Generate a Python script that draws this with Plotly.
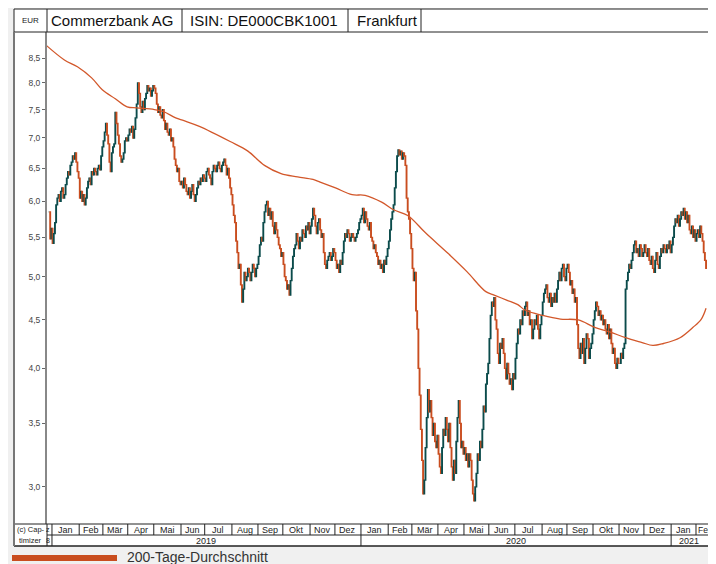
import numpy as np
import pandas as pd
import plotly.graph_objects as go

# daily closing prices in EUR, estimated from the chart (one line per month)
close_2018 = [5.85, 5.48, 5.62]
close_2019 = [
    5.42, 5.55, 5.70, 5.95, 6.05, 6.10, 6.00, 6.15, 6.20, 6.05, 6.10, 6.25, 6.35, 6.45, 6.40, 6.55, 6.60, 6.70, 6.65, 6.75, 6.60, 6.45, 6.35,
    6.05, 6.15, 6.00, 6.10, 5.95, 6.05, 6.20, 6.30, 6.35, 6.25, 6.45, 6.40, 6.50, 6.45, 6.40, 6.50, 6.55, 6.48, 6.70, 6.85,
    6.95, 7.10, 7.25, 7.05, 6.90, 6.60, 6.45, 6.75, 6.85, 6.90, 7.45, 7.25, 7.05, 6.90, 6.70, 6.60, 6.65, 6.75, 6.95, 7.00, 6.95,
    7.05, 7.15, 7.10, 7.20, 7.00, 7.15, 7.35, 7.60, 8.00, 7.80, 7.55, 7.45, 7.65, 7.50, 7.70, 7.80, 7.95, 7.85, 7.90, 7.75, 7.85, 7.95,
    7.90, 7.80, 7.60, 7.45, 7.55, 7.40, 7.35, 7.50, 7.30, 7.15, 7.25, 7.10, 7.05, 7.15, 6.95, 7.00, 6.85, 6.65, 6.55, 6.45, 6.50, 6.30, 6.25,
    6.30, 6.20, 6.35, 6.25, 6.15, 6.10, 6.20, 6.05, 6.15, 6.25, 6.10, 6.00, 6.10, 6.20, 6.30, 6.25, 6.35, 6.30, 6.40, 6.35,
    6.30, 6.45, 6.50, 6.40, 6.35, 6.25, 6.45, 6.55, 6.50, 6.45, 6.55, 6.60, 6.50, 6.45, 6.55, 6.60, 6.65, 6.55, 6.40, 6.50, 6.35, 6.20, 6.10,
    5.95, 5.80, 5.70, 5.45, 5.30, 5.10, 5.15, 4.90, 4.70, 4.85, 5.05, 4.95, 5.00, 5.10, 5.05, 4.95, 5.05, 5.15, 5.10, 5.00, 5.10, 5.15,
    5.25, 5.40, 5.50, 5.45, 5.70, 5.85, 5.95, 6.00, 5.80, 5.90, 5.75, 5.85, 5.65, 5.55, 5.70, 5.60, 5.50, 5.40, 5.35, 5.25, 5.30,
    5.15, 5.00, 4.95, 4.85, 4.90, 4.78, 4.95, 5.10, 5.25, 5.35, 5.40, 5.55, 5.45, 5.35, 5.50, 5.45, 5.60, 5.55, 5.50, 5.65, 5.60, 5.70, 5.55,
    5.65, 5.75, 5.90, 5.80, 5.65, 5.55, 5.70, 5.75, 5.60, 5.50, 5.55, 5.30, 5.15, 5.10, 5.20, 5.25, 5.30, 5.20, 5.25, 5.35, 5.30,
    5.20, 5.10, 5.15, 5.05, 5.20, 5.15, 5.30, 5.45, 5.55, 5.50, 5.60, 5.55, 5.45, 5.50, 5.55, 5.50, 5.45, 5.50, 5.55, 5.60, 5.70, 5.75,
]
close_2020 = [
    5.80, 5.90, 5.70, 5.85, 5.75, 5.65, 5.60, 5.70, 5.50, 5.45, 5.35, 5.40, 5.30, 5.25, 5.15, 5.20, 5.10, 5.15, 5.05, 5.20, 5.15, 5.25, 5.35,
    5.45, 5.60, 5.75, 5.85, 5.95, 6.20, 6.45, 6.70, 6.80, 6.72, 6.78, 6.65, 6.75, 6.70, 6.55, 6.05, 5.85, 5.75, 5.55, 5.35,
    5.10, 4.95, 5.05, 4.60, 4.40, 4.00, 3.75, 3.45, 3.20, 2.95, 3.05, 3.30, 3.55, 3.80, 3.60, 3.70, 3.55, 3.40, 3.50, 3.35, 3.30, 3.40,
    3.25, 3.15, 3.10, 3.30, 3.45, 3.40, 3.55, 3.45, 3.35, 3.50, 3.30, 3.15, 3.05, 3.20, 3.10, 3.35, 3.55, 3.70, 3.50, 3.30, 3.35, 3.25,
    3.30, 3.20, 3.25, 3.15, 3.25, 3.20, 3.05, 2.95, 2.90, 3.00, 3.10, 3.25, 3.20, 3.35, 3.30, 3.45, 3.65, 3.60, 3.85, 3.95, 4.05,
    4.30, 4.55, 4.70, 4.65, 4.75, 4.50, 4.40, 4.15, 4.05, 4.25, 4.20, 4.30, 4.15, 4.00, 3.90, 4.05, 3.95, 3.85, 3.90, 3.80, 3.95, 3.90,
    4.10, 4.25, 4.40, 4.35, 4.50, 4.45, 4.60, 4.55, 4.65, 4.70, 4.55, 4.60, 4.45, 4.50, 4.30, 4.40, 4.50, 4.45, 4.55, 4.40, 4.30, 4.45, 4.55,
    4.70, 4.80, 4.85, 4.90, 4.75, 4.70, 4.80, 4.65, 4.75, 4.70, 4.80, 4.70, 4.85, 4.95, 5.05, 4.95, 5.10, 5.15, 5.00, 4.95, 5.10,
    5.15, 5.05, 4.90, 4.95, 4.80, 4.85, 4.70, 4.75, 4.45, 4.20, 4.10, 4.25, 4.15, 4.30, 4.05, 4.20, 4.35, 4.30, 4.10, 4.20, 4.25, 4.35,
    4.50, 4.60, 4.70, 4.65, 4.55, 4.60, 4.50, 4.55, 4.45, 4.50, 4.40, 4.35, 4.45, 4.30, 4.40, 4.25, 4.15, 4.20, 4.05, 4.00, 4.10, 4.05,
    4.05, 4.15, 4.10, 4.20, 4.25, 4.85, 4.95, 5.05, 5.15, 5.10, 5.20, 5.30, 5.40, 5.45, 5.30, 5.35, 5.25, 5.40, 5.35, 5.25, 5.30,
    5.40, 5.30, 5.25, 5.35, 5.20, 5.15, 5.25, 5.10, 5.05, 5.20, 5.30, 5.15, 5.10, 5.25, 5.35, 5.30, 5.40, 5.35, 5.30, 5.40, 5.35, 5.45, 5.30,
]
close_2021 = [
    5.40, 5.50, 5.65, 5.75, 5.70, 5.80, 5.65, 5.75, 5.85, 5.80, 5.90, 5.75, 5.85, 5.70, 5.80, 5.60, 5.55, 5.65, 5.50, 5.60, 5.45,
    5.55, 5.60, 5.50, 5.65, 5.55, 5.45, 5.30, 5.20, 5.10,
]

# 200-day moving average
ma_dates = [
    "2018-12-24", "2019-01-15", "2019-01-30", "2019-02-15", "2019-02-28", "2019-03-15",
    "2019-03-29", "2019-04-10", "2019-05-01", "2019-05-13", "2019-05-27", "2019-06-05",
    "2019-06-24", "2019-07-30", "2019-08-20", "2019-09-09", "2019-09-27", "2019-10-17",
    "2019-11-05", "2019-11-13", "2019-12-02", "2019-12-20", "2020-01-06", "2020-01-24",
    "2020-02-07", "2020-02-25", "2020-03-17", "2020-04-13", "2020-05-05", "2020-05-27",
    "2020-06-05", "2020-06-22", "2020-07-03", "2020-07-13", "2020-08-03", "2020-08-24",
    "2020-09-14", "2020-10-02", "2020-10-21", "2020-11-09", "2020-11-27", "2020-12-10",
    "2020-12-23", "2021-01-12", "2021-01-27", "2021-02-05", "2021-02-11",
]
ma_values = [
    8.78, 8.46, 8.32, 8.10, 7.87, 7.70,
    7.55, 7.53, 7.50, 7.46, 7.35, 7.30,
    7.20, 6.94, 6.78, 6.55, 6.42, 6.37,
    6.33, 6.29, 6.20, 6.10, 6.09, 5.99,
    5.88, 5.80, 5.56, 5.29, 5.06, 4.82,
    4.78, 4.72, 4.67, 4.61, 4.55, 4.51,
    4.50, 4.42, 4.37, 4.31, 4.26, 4.23,
    4.25, 4.31, 4.42, 4.51, 4.63,
]

month_names = ["Jan", "Feb", "Mär", "Apr", "Mai", "Jun", "Jul", "Aug", "Sep", "Okt", "Nov", "Dez"]
y_ticks = [3.0, 3.5, 4.0, 4.5, 5.0, 5.5, 6.0, 6.5, 7.0, 7.5, 8.0, 8.5]

UP = "#0b4b4b"
DOWN = "#c94d1f"
MA = "#d2572a"
FONT = "Liberation Sans, Arial, sans-serif"

# the page puts the figure 8px in from the top-left corner of the window, so the
# figure is sized to end exactly at the window edge; positions are window pixels
OFF = 8
W, H = 716 - OFF, 564 - OFF
L, T = 47 - OFF, 32 - OFF
B, R = H - (524 - OFF), 0
PW, PH = 669, 492


def px(x):
    return (x - 47) / PW


def py(y):
    return (524 - y) / PH


close = close_2018 + close_2019 + close_2020 + close_2021
dates = pd.bdate_range("2018-12-27", periods=len(close))
all_days = pd.bdate_range("2018-12-17", "2021-03-31")
pos = pd.Series(np.arange(len(all_days)), index=all_days)
xi = pos[dates].values
opn = [close[0]] + close[:-1]
high = np.maximum(opn, close)
low = np.minimum(opn, close)

XL, XR = 6.3, 571.4

fig = go.Figure()
fig.add_trace(go.Candlestick(
    x=xi, open=opn, high=high, low=low, close=close,
    increasing=dict(line=dict(color=UP, width=1.3), fillcolor=UP),
    decreasing=dict(line=dict(color=DOWN, width=1.3), fillcolor=DOWN),
    whiskerwidth=0, showlegend=False, hoverinfo="skip",
))
fig.add_trace(go.Scatter(
    x=pos[pd.to_datetime(ma_dates)].values, y=ma_values, mode="lines",
    line=dict(color=MA, width=1.3, shape="spline"), showlegend=False, hoverinfo="skip",
))

shapes = []
annotations = []
# white frame areas: header, y-axis column, date table
for x0, y0, x1, y1 in [(14, 9, 716, 32), (14, 32, 47, 546), (47, 524, 716, 546)]:
    shapes.append(dict(type="rect", xref="paper", yref="paper", x0=px(x0), x1=px(x1),
                       y0=py(y0), y1=py(y1), fillcolor="white", line=dict(width=0), layer="below"))


def hline(y, x0, x1, color="#222", w=1):
    shapes.append(dict(type="line", xref="paper", yref="paper", x0=px(x0), x1=px(x1),
                       y0=py(y), y1=py(y), line=dict(color=color, width=w)))


def vline(x, y0, y1, color="#222", w=1):
    shapes.append(dict(type="line", xref="paper", yref="paper", x0=px(x), x1=px(x),
                       y0=py(y0), y1=py(y1), line=dict(color=color, width=w)))


def label(x, y, text, font, xref="paper", xanchor="center", xshift=0):
    annotations.append(dict(x=x, y=y, xref=xref, yref="paper", text=text, showarrow=False,
                            xanchor=xanchor, yanchor="middle", xshift=xshift, font=font))


hline(9, 14, 716)
hline(32, 14, 716)
hline(524, 14, 716)
hline(535, 47, 716)
hline(546, 14, 716, w=1.5)
vline(14, 9, 32)
vline(14, 32, 546, color="#777", w=2)
for xs in [47, 182, 348, 421]:
    vline(xs, 9, 32)
vline(47, 524, 546)

# month / year table below the plot
months = pd.date_range("2019-01-01", "2021-02-01", freq="MS")
bounds = [pos[all_days[all_days >= m][0]] - 0.5 for m in months]
y_mid_m = py(529.5)
y_mid_y = py(540.5)
tfont = dict(size=9, color="#222", family=FONT)
for i, m in enumerate(months):
    b = bounds[i]
    shapes.append(dict(type="line", xref="x", yref="paper", x0=b, x1=b, y0=py(524), y1=py(535),
                       line=dict(color="#222", width=1)))
    if i + 1 < len(bounds):
        label((b + bounds[i + 1]) / 2, y_mid_m, month_names[m.month - 1], tfont, xref="x")
    else:
        # last month runs past the window edge
        label(b, y_mid_m, month_names[m.month - 1], dict(tfont, size=8.5), xref="x",
              xanchor="left", xshift=0.5)
year_idx = [i for i, m in enumerate(months) if m.month == 1]
for k, i in enumerate(year_idx):
    b = bounds[i]
    shapes.append(dict(type="line", xref="x", yref="paper", x0=b, x1=b, y0=py(535), y1=py(546),
                       line=dict(color="#222", width=1)))
    right = bounds[year_idx[k + 1]] if k + 1 < len(year_idx) else XR - 7
    label((b + right) / 2, y_mid_y, str(months[i].year), tfont, xref="x")
# clipped remains of "Dez" / "2018"
cfont = dict(size=7, color="#222", family=FONT)
label(bounds[0], y_mid_m, "z", cfont, xref="x", xanchor="right", xshift=0.5)
label(bounds[0], y_mid_y, "8", cfont, xref="x", xanchor="right", xshift=0.5)

sfont = dict(size=7.5, color="#222", family=FONT)
label(px(30.5), y_mid_m, "(c) Cap-", sfont)
label(px(30.5), y_mid_y, "timizer", sfont)

# header
label(px(30.5), py(21), "EUR", dict(size=8, color="#222", family=FONT))
hfont = dict(size=15, color="#111", family=FONT)
for x0, txt in [(49, "Commerzbank AG"), (188, "ISIN: DE000CBK1001"), (355, "Frankfurt")]:
    label(px(x0), py(21), txt, hfont, xanchor="left")

# legend
shapes.append(dict(type="rect", xref="paper", yref="paper", x0=px(12), x1=px(117),
                   y0=py(555), y1=py(561), fillcolor=DOWN, line=dict(width=0)))
label(px(125), py(557), "200-Tage-Durchschnitt", dict(size=14, color="#333", family=FONT),
      xanchor="left")

fig.update_layout(
    width=W, height=H,
    margin=dict(l=L, r=R, t=T, b=B, pad=0),
    paper_bgcolor="#f0f0f0", plot_bgcolor="white",
    font=dict(family=FONT),
    shapes=shapes, annotations=annotations,
    showlegend=False,
    xaxis=dict(range=[XL, XR], showticklabels=False, ticks="", showgrid=False,
               zeroline=False, rangeslider=dict(visible=False), showline=False),
    yaxis=dict(type="log", range=[np.log10(2.742), np.log10(9.054)],
               tickvals=y_ticks, ticktext=[f"{v:.1f}".replace(".", ",") for v in y_ticks],
               ticks="outside", ticklen=3, tickcolor="#666", showgrid=False, zeroline=False,
               showline=True, linecolor="#888", linewidth=2,
               tickfont=dict(size=8.5, color="#444", family=FONT)),
)

fig.write_html("out.html")
